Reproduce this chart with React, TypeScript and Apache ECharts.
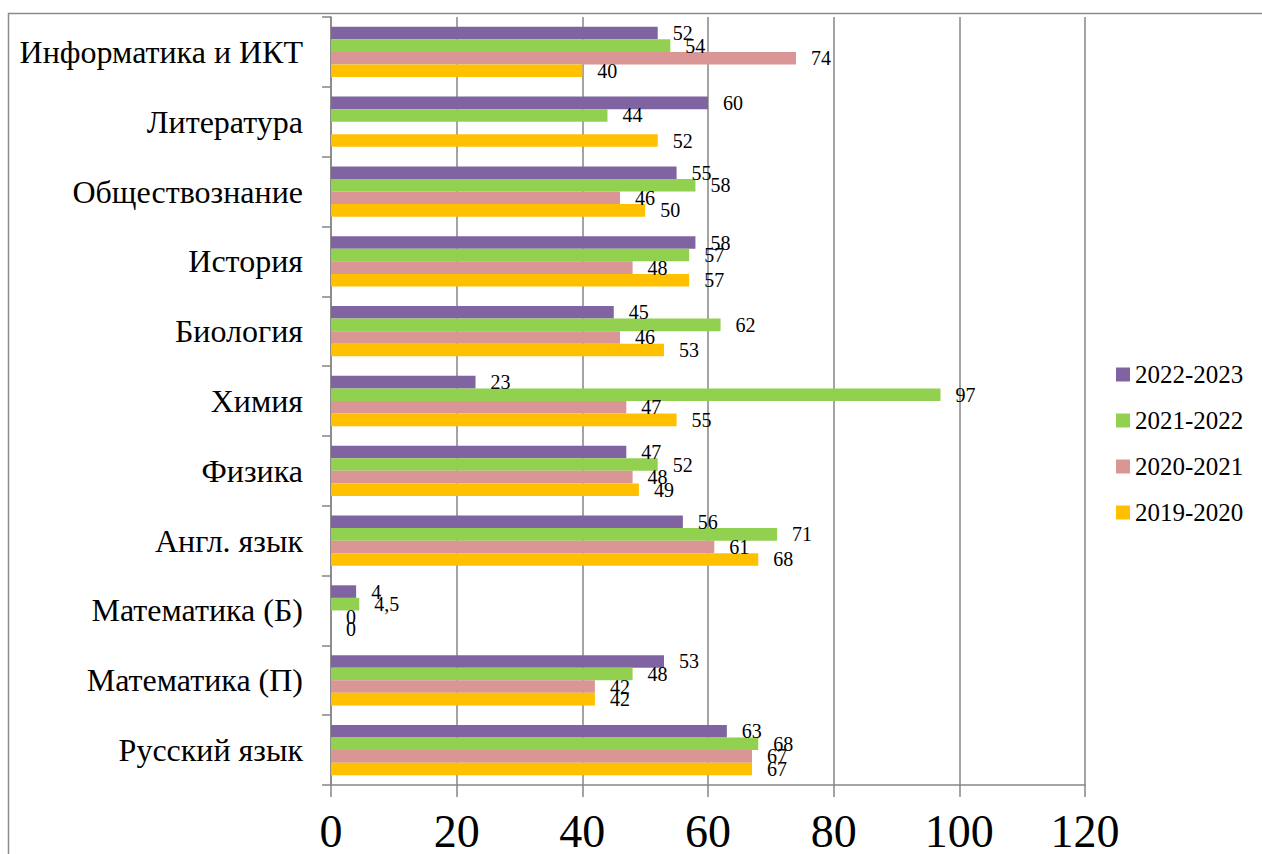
import React, { useEffect, useRef } from "react";
import * as echarts from "echarts";

const categories = [
  "Русский язык",
  "Математика (П)",
  "Математика (Б)",
  "Англ. язык",
  "Физика",
  "Химия",
  "Биология",
  "История",
  "Обществознание",
  "Литература",
  "Информатика и ИКТ",
];

const seriesNames = ["2022-2023", "2021-2022", "2020-2021", "2019-2020"];

const v2022_2023 = [63, 53, 4, 56, 47, 23, 45, 58, 55, 60, 52];
const v2021_2022 = [68, 48, 4.5, 71, 52, 97, 62, 57, 58, 44, 54];
const v2020_2021 = [67, 42, 0, 61, 48, 47, 46, 48, 46, null, 74];
const v2019_2020 = [67, 42, 0, 68, 49, 55, 53, 57, 50, 52, 40];

const seriesValues = [v2022_2023, v2021_2022, v2020_2021, v2019_2020];
const colors = ["#8064A2", "#92D050", "#D99694", "#FFC000"];

const xTicks = [0, 20, 40, 60, 80, 100, 120];

const FONT = "'Liberation Serif', 'Times New Roman', serif";

export default function App() {
  const ref = useRef<HTMLDivElement>(null);

  useEffect(() => {
    if (!ref.current) return;
    const chart = echarts.init(ref.current, null, { renderer: "svg" });
    chart.setOption({
      animation: false,
      backgroundColor: "#ffffff",
      textStyle: { fontFamily: FONT },
      graphic: [
        {
          type: "rect",
          shape: { x: 8.5, y: 13.5, width: 1400, height: 1000 },
          style: { fill: "none", stroke: "#8c8c8c", lineWidth: 1.5 },
          silent: true,
          z: -1,
        },
      ],
      legend: {
        orient: "vertical",
        left: 1111,
        top: 357,
        icon: "rect",
        itemWidth: 14,
        itemHeight: 14,
        itemGap: 21,
        data: seriesNames,
        textStyle: { fontFamily: FONT, fontSize: 25, color: "#000", lineHeight: 25 },
      },
      grid: { left: 331, right: 177, top: 17, bottom: 68, containLabel: false },
      xAxis: {
        type: "value",
        min: 0,
        max: 120,
        interval: 20,
        axisLine: { show: true, lineStyle: { color: "#868686", width: 1.5 } },
        axisTick: { show: true, length: 12, lineStyle: { color: "#868686", width: 1.5 } },
        splitLine: { show: true, lineStyle: { color: "#868686", width: 1.5 } },
        axisLabel: {
          fontFamily: FONT,
          fontSize: 46,
          color: "#000",
          margin: 23,
          formatter: (v: number) => (xTicks.includes(v) ? String(v) : ""),
        },
      },
      yAxis: {
        type: "category",
        data: categories,
        axisLine: { show: true, lineStyle: { color: "#868686", width: 1.5 } },
        axisTick: { show: true, length: 9, alignWithLabel: false, lineStyle: { color: "#868686", width: 1.5 } },
        axisLabel: { fontFamily: FONT, fontSize: 32, color: "#000", margin: 28 },
      },
      series: seriesNames.map((name, i) => ({
        name,
        type: "bar",
        data: seriesValues[i],
        barGap: "0%",
        barCategoryGap: "28%",
        itemStyle: { color: colors[i] },
        label: {
          show: true,
          position: "right",
          distance: 15,
          fontFamily: FONT,
          fontSize: 20,
          color: "#000",
          formatter: (p: any) => (p.value == null ? "" : String(p.value).replace(".", ",")),
        },
      })),
    });
    return () => chart.dispose();
  }, []);

  return (
    <div
      ref={ref}
      style={{ position: "fixed", left: 0, top: 0, width: 1262, height: 854 }}
    />
  );
}
